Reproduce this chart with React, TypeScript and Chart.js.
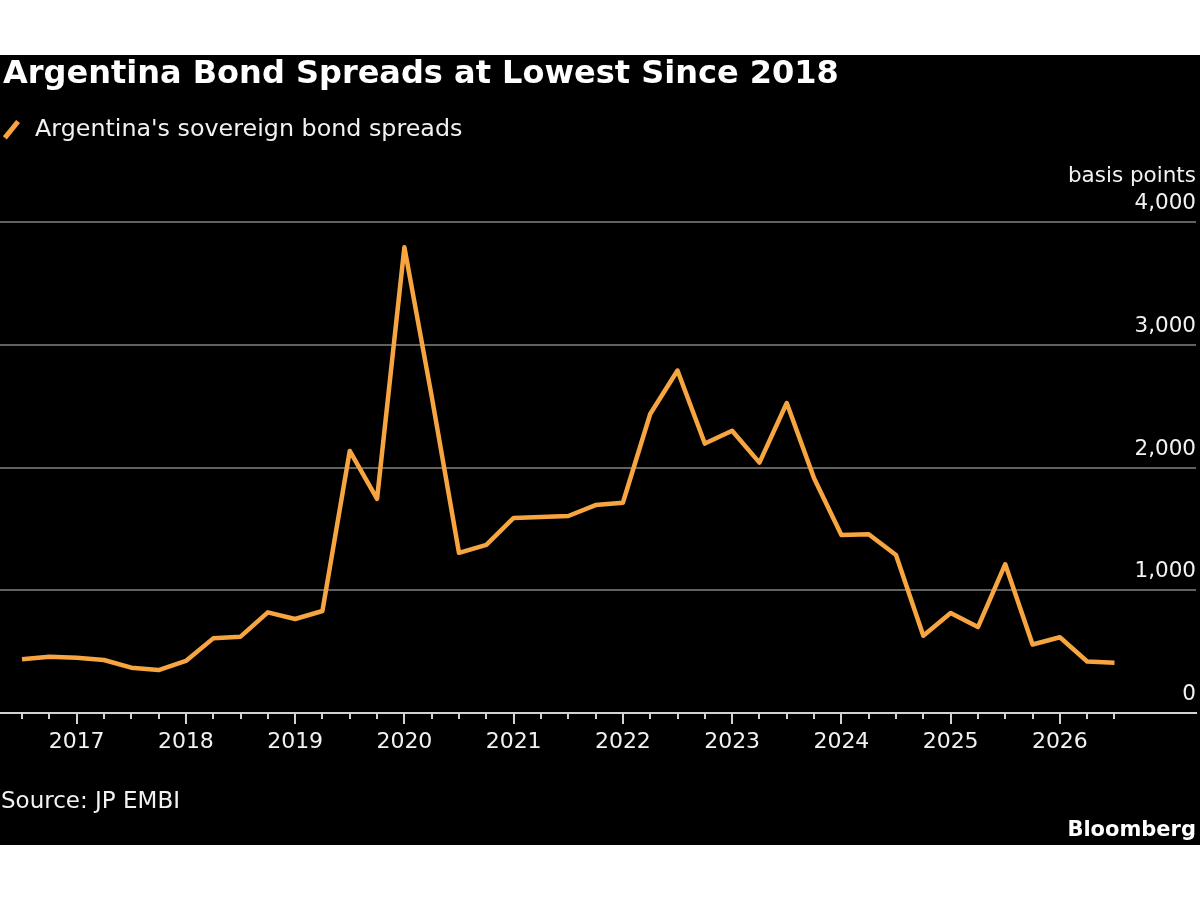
import React, { useEffect, useRef } from "react";
import { Chart, registerables } from "chart.js";

Chart.register(...registerables);

// Quarterly observations of the EMBI spread for Argentina (basis points)
const quarters = [
  "2016-07", "2016-10",
  "2017-01", "2017-04", "2017-07", "2017-10",
  "2018-01", "2018-04", "2018-07", "2018-10",
  "2019-01", "2019-04", "2019-07", "2019-10",
  "2020-01", "2020-04", "2020-07", "2020-10",
  "2021-01", "2021-04", "2021-07", "2021-10",
  "2022-01", "2022-04", "2022-07", "2022-10",
  "2023-01", "2023-04", "2023-07", "2023-10",
  "2024-01", "2024-04", "2024-07", "2024-10",
  "2025-01", "2025-04", "2025-07", "2025-10",
  "2026-01", "2026-04", "2026-07",
];

const spreads = [
  437, 459,
  450, 432, 369, 350,
  424, 608, 622, 820,
  766, 831, 2135, 1745,
  3795, 2580, 1305, 1369,
  1589, 1597, 1605, 1694,
  1713, 2436, 2790, 2195,
  2300, 2040, 2525, 1912,
  1450, 1456, 1287, 630,
  815, 700, 1212, 558,
  617, 420, 410,
];

const yTicks = [0, 1000, 2000, 3000, 4000];

const ORANGE = "#F7A540";
const GRID = "#616161";
const AXIS = "#d2d2d2";
const TEXT = "#f2f2f2";
const FONT = "'DejaVu Sans', sans-serif";

const toYear = (q: string) => {
  const [y, m] = q.split("-").map(Number);
  return y + (m - 1) / 12;
};

// Short ticks at every quarter, longer ones at the start of each year
const quarterTicks = {
  id: "quarterTicks",
  afterDraw(chart: any) {
    const x = chart.scales.x;
    const ctx = chart.ctx;
    const base = chart.chartArea.bottom;
    ctx.save();
    ctx.strokeStyle = AXIS;
    ctx.lineWidth = 2;
    quarters.forEach((q) => {
      const px = Math.round(x.getPixelForValue(toYear(q)));
      const tall = q.endsWith("-01");
      ctx.beginPath();
      ctx.moveTo(px, base);
      ctx.lineTo(px, base + (tall ? 11 : 6));
      ctx.stroke();
    });
    ctx.restore();
  },
};

export default function App() {
  const canvasRef = useRef<HTMLCanvasElement | null>(null);

  useEffect(() => {
    document.body.style.margin = "0";
    document.body.style.background = "#ffffff";
    const canvas = canvasRef.current;
    if (!canvas) return;
    const chart = new Chart(canvas, {
      type: "line",
      data: {
        datasets: [
          {
            label: "Argentina's sovereign bond spreads",
            data: quarters.map((q, i) => ({ x: toYear(q), y: spreads[i] })),
            borderColor: ORANGE,
            borderWidth: 4.5,
            pointRadius: 0,
            tension: 0,
            borderJoinStyle: "round",
            fill: false,
          },
        ],
      },
      options: {
        animation: false,
        responsive: false,
        devicePixelRatio: 1,
        layout: { padding: { top: 167, right: 4, left: 0, bottom: 92 } },
        plugins: {
          legend: { display: false },
          tooltip: { enabled: false },
          title: { display: false },
        },
        scales: {
          x: {
            type: "linear",
            min: 2016.2986,
            max: 2027.246,
            afterBuildTicks: (s: any) => {
              s.ticks = quarters.map((q) => ({ value: toYear(q) }));
            },
            afterFit: (s: any) => {
              s.height = 40;
            },
            grid: { display: false, drawTicks: false },
            border: { display: true, color: AXIS, width: 2 },
            ticks: {
              autoSkip: false,
              maxRotation: 0,
              padding: 16,
              color: TEXT,
              font: { family: FONT, size: 22 },
              callback: (_v: any, i: number) =>
                quarters[i] && quarters[i].endsWith("-01") ? quarters[i].slice(0, 4) : "",
            },
          },
          y: {
            position: "right",
            min: 0,
            max: 4000,
            afterBuildTicks: (s: any) => {
              s.ticks = yTicks.map((v) => ({ value: v }));
            },
            afterFit: (s: any) => {
              s.width = 0;
            },
            grid: {
              drawTicks: false,
              lineWidth: 2,
              color: (c: any) => (c.tick && c.tick.value === 0 ? "rgba(0,0,0,0)" : GRID),
            },
            border: { display: false },
            ticks: {
              mirror: true,
              padding: 0,
              labelOffset: -18.5,
              color: TEXT,
              font: { family: FONT, size: 21.5 },
              callback: (v: any) => Number(v).toLocaleString("en-US"),
            },
          },
        },
      },
      plugins: [quarterTicks],
    });
    return () => chart.destroy();
  }, []);

  const text: React.CSSProperties = {
    position: "absolute",
    fontFamily: FONT,
    color: TEXT,
    whiteSpace: "nowrap",
    margin: 0,
  };

  return (
    <div style={{ position: "relative", width: 1200, height: 900, background: "#ffffff" }}>
      <div
        style={{
          position: "absolute",
          left: 0,
          top: 55,
          width: 1200,
          height: 790,
          background: "#000000",
          overflow: "hidden",
        }}
      >
        <canvas
          ref={canvasRef}
          width={1200}
          height={790}
          style={{ position: "absolute", left: 0, top: 0, width: 1200, height: 790 }}
        />
        <div style={{ ...text, left: 3, top: 1.4, fontSize: 32, lineHeight: "32px", fontWeight: 700, color: "#ffffff" }}>
          Argentina Bond Spreads at Lowest Since 2018
        </div>
        <div
          style={{
            position: "absolute",
            left: 8.5,
            top: 63.5,
            width: 4.5,
            height: 21,
            background: ORANGE,
            transform: "rotate(39deg)",
          }}
        />
        <div style={{ ...text, left: 35, top: 62.2, fontSize: 23.8, lineHeight: "23.8px" }}>
          Argentina's sovereign bond spreads
        </div>
        <div style={{ ...text, right: 4, top: 109, fontSize: 21.5, lineHeight: "21.5px" }}>
          basis points
        </div>
        <div style={{ ...text, left: 1, top: 733.5, fontSize: 23, lineHeight: "23px" }}>
          Source: JP EMBI
        </div>
        <div style={{ ...text, right: 4, top: 764, fontSize: 21, lineHeight: "21px", fontWeight: 700, color: "#ffffff" }}>
          Bloomberg
        </div>
      </div>
    </div>
  );
}
